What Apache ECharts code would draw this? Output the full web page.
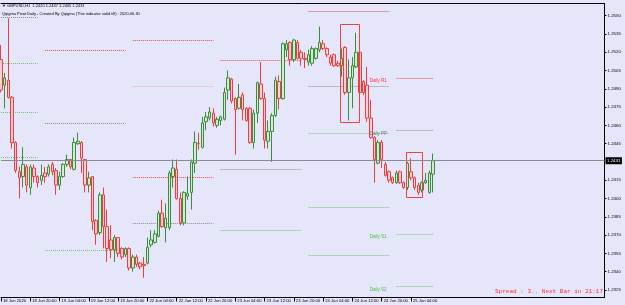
<!DOCTYPE html>
<html><head><meta charset="utf-8">
<script src="https://cdn.jsdelivr.net/npm/echarts@6/dist/echarts.min.js"></script>
<style>html,body{margin:0;padding:0;background:#E6E6FA;}#c{width:625px;height:305px;}</style>
</head><body><div id="c"></div>
<script>
// ---- H1 candles GBPUSD (bar index 0 = 18 Jun 12:00) ----
const opens = [1.2514,1.2493,1.2497,1.2483,1.2446,1.2422,1.2418,1.2426,1.2409,1.2425,
1.2418,1.2415,1.2421,1.2420,1.2428,1.2423,1.2411,1.2418,1.2428,1.2432,
1.2424,1.2445,1.2446,1.2432,1.2411,1.2418,1.2382,1.2372,1.2403,1.2377,
1.2366,1.2358,1.2368,1.2359,1.2354,1.2359,1.2343,1.2352,1.2347,1.2346,
1.2347,1.2362,1.2364,1.2369,1.2388,1.2376,1.2376,1.2418,1.2424,1.2400,
1.2380,1.2402,1.2405,1.2429,1.2445,1.2442,1.2463,1.2466,1.2470,1.2460,
1.2464,1.2465,1.2489,1.2498,1.2482,1.2474,1.2485,1.2474,1.2474,1.2446,
1.2470,1.2494,1.2482,1.2447,1.2455,1.2468,1.2496,1.2482,1.2522,1.2528,
1.2514,1.2528,1.2520,1.2515,1.2512,1.2511,1.2515,1.2522,1.2527,1.2523,
1.2516,1.2518,1.2511,1.2509,1.2524,1.2487,1.2499,1.2508,1.2520,1.2496,
1.2493,1.2466,1.2450,1.2429,1.2446,1.2428,1.2422,1.2417,1.2413,1.2422,
1.2413,1.2409,1.2422,1.2417,1.2411,1.2407,1.2413,1.2405,1.2420];
const highs = [1.2526,1.2503,1.2548,1.2484,1.2447,1.2426,1.2442,1.2428,1.2428,1.2428,
1.2419,1.2428,1.2426,1.2428,1.2430,1.2425,1.2422,1.2429,1.2436,1.2432,
1.2450,1.2454,1.2447,1.2432,1.2422,1.2418,1.2383,1.2405,1.2409,1.2391,
1.2378,1.2370,1.2368,1.2360,1.2360,1.2360,1.2354,1.2354,1.2348,1.2352,
1.2368,1.2374,1.2374,1.2390,1.2399,1.2396,1.2423,1.2432,1.2432,1.2405,
1.2406,1.2418,1.2432,1.2455,1.2454,1.2467,1.2471,1.2475,1.2474,1.2467,
1.2468,1.2491,1.2505,1.2499,1.2483,1.2494,1.2487,1.2475,1.2475,1.2473,
1.2496,1.2512,1.2487,1.2464,1.2470,1.2500,1.2501,1.2528,1.2530,1.2529,
1.2531,1.2530,1.2522,1.2520,1.2522,1.2525,1.2524,1.2541,1.2530,1.2524,
1.2518,1.2519,1.2513,1.2523,1.2525,1.2514,1.2516,1.2536,1.2522,1.2497,
1.2508,1.2481,1.2451,1.2448,1.2448,1.2430,1.2423,1.2418,1.2423,1.2423,
1.2414,1.2430,1.2433,1.2418,1.2413,1.2414,1.2421,1.2423,1.2437];
const lows = [1.2487,1.2474,1.2482,1.2441,1.2421,1.2400,1.2409,1.2405,1.2403,1.2413,
1.2409,1.2411,1.2413,1.2418,1.2419,1.2403,1.2407,1.2417,1.2426,1.2424,
1.2423,1.2444,1.2421,1.2405,1.2405,1.2374,1.2362,1.2370,1.2359,1.2348,
1.2351,1.2348,1.2352,1.2350,1.2352,1.2341,1.2340,1.2344,1.2342,1.2335,
1.2346,1.2360,1.2363,1.2368,1.2376,1.2364,1.2374,1.2409,1.2399,1.2378,
1.2378,1.2399,1.2391,1.2421,1.2440,1.2441,1.2456,1.2464,1.2459,1.2458,
1.2460,1.2464,1.2481,1.2478,1.2436,1.2473,1.2464,1.2463,1.2445,1.2441,
1.2462,1.2481,1.2441,1.2441,1.2430,1.2467,1.2473,1.2481,1.2516,1.2509,
1.2512,1.2514,1.2509,1.2507,1.2509,1.2509,1.2514,1.2520,1.2522,1.2516,
1.2509,1.2508,1.2508,1.2500,1.2485,1.2464,1.2474,1.2507,1.2485,1.2485,
1.2463,1.2449,1.2413,1.2428,1.2425,1.2418,1.2413,1.2412,1.2412,1.2412,
1.2408,1.2407,1.2415,1.2407,1.2403,1.2405,1.2412,1.2404,1.2405];
const closes = [1.2489,1.2499,1.2483,1.2446,1.2423,1.2417,1.2428,1.2411,1.2426,1.2418,
1.2413,1.2419,1.2418,1.2426,1.2422,1.2411,1.2418,1.2428,1.2432,1.2426,
1.2446,1.2447,1.2433,1.2411,1.2417,1.2381,1.2371,1.2403,1.2377,1.2359,
1.2358,1.2368,1.2355,1.2352,1.2359,1.2343,1.2352,1.2346,1.2344,1.2345,
1.2360,1.2366,1.2371,1.2388,1.2377,1.2384,1.2421,1.2425,1.2400,1.2380,
1.2405,1.2404,1.2430,1.2446,1.2445,1.2462,1.2467,1.2471,1.2462,1.2465,
1.2467,1.2487,1.2499,1.2480,1.2473,1.2483,1.2473,1.2464,1.2446,1.2470,
1.2495,1.2482,1.2448,1.2455,1.2468,1.2497,1.2482,1.2527,1.2527,1.2514,
1.2530,1.2515,1.2515,1.2514,1.2518,1.2523,1.2523,1.2528,1.2523,1.2518,
1.2511,1.2509,1.2509,1.2515,1.2487,1.2499,1.2509,1.2520,1.2487,1.2487,
1.2466,1.2450,1.2432,1.2446,1.2432,1.2419,1.2415,1.2413,1.2421,1.2413,
1.2409,1.2429,1.2417,1.2409,1.2405,1.2413,1.2415,1.2421,1.2431];

// ---- axis labels ----
const xLabelBars = [0,8,16,24,32,40,48,56,64,72,80,88,96,104,112];
const xLabels = ['18 Jun 2020','18 Jun 20:00','19 Jun 04:00','19 Jun 12:00','19 Jun 20:00','22 Jun 04:00','22 Jun 12:00','22 Jun 20:00','23 Jun 04:00','23 Jun 12:00','23 Jun 20:00','24 Jun 04:00','24 Jun 12:00','24 Jun 20:00','25 Jun 04:00'];
const yTicks = [1.2550,1.2535,1.2520,1.2505,1.2490,1.2475,1.2460,1.2445,1.2415,1.2400,1.2385,1.2370,1.2355,1.2340,1.2325];

// ---- daily pivots (one entry per day: 18,19,22,23,24,25 Jun) ----
const dayStart = [-12, 12, 36, 60, 84, 108];
const dayEnd   = [10, 34, 58, 82, 106, 118];
const pivotR3 = [null, null, 1.2530, null, null, null];
const pivotR2 = [null, null, 1.2492, null, null, null];
const pivotR1 = [null, 1.2522, 1.2418, 1.2514, 1.2554, 1.2499];
const pivotPP = [1.2549, 1.2462, 1.2380, 1.2424, 1.2492, 1.2456];
const pivotS1 = [1.2511, 1.2358, null, 1.2374, 1.2454, 1.2371];
const pivotS2 = [1.2471, null, null, null, 1.2393, 1.2328];
const pivotS3 = [1.2434, null, null, null, 1.2354, null];
const labelBar = 100.7;

// ---- highlight boxes ----
const boxFrom = [92.7, 110.7];
const boxTo   = [98.0, 115.0];
const boxTop  = [1.2543, 1.2438];
const boxBot  = [1.2463, 1.2401];

const title1 = '\u25BC GBPUSD,H1  1.2420 1.2437 1.2405 1.2431';
const title2 = 'Qqigma Pivot Daily - Created By Qqigma (This indicator valid till) : 2020.06.30';
const spreadText = 'Spread : 3.. Next Bar in 21:17';

const candleData = opens.map((o, i) => [i, o, closes[i], lows[i], highs[i]]);
const lastClose = closes[closes.length - 1];

const RED = '#f04848', PINK = '#f0a0b4', GRAY = '#8c8c8c', GREEN = '#6cc86c';
const segs = [];
function addLevel(arr, color) {
  arr.forEach((v, d) => { if (v != null) segs.push([Math.max(dayStart[d], 0), dayEnd[d], v, color]); });
}
addLevel(pivotR3, RED); addLevel(pivotR2, PINK); addLevel(pivotR1, RED);
addLevel(pivotPP, GRAY);
addLevel(pivotS1, GREEN); addLevel(pivotS2, GREEN); addLevel(pivotS3, GREEN);

const last = dayStart.length - 1;
const labelData = [
  [labelBar, pivotR1[last], 'Daily R1', '#ff3030'],
  [labelBar, pivotPP[last], 'Daily PP', '#707070'],
  [labelBar, pivotS1[last], 'Daily S1', '#44c044'],
  [labelBar, pivotS2[last], 'Daily S2', '#44c044']
];
const boxData = boxFrom.map((b, i) => [b, boxTo[i], boxTop[i], boxBot[i]]);

const chart = echarts.init(document.getElementById('c'), null, {renderer: 'canvas'});
const FONT = 'Liberation Sans';
chart.setOption({
  animation: false,
  backgroundColor: '#E6E6FA',
  grid: {left: 0, right: 20.5, top: 3.5, bottom: 7.5},
  xAxis: [{
    type: 'value', min: 0, max: 164.85, position: 'bottom',
    axisLine: {show: true, onZero: false, lineStyle: {color: '#000', width: 1}},
    axisTick: {show: true, customValues: xLabelBars, length: 4, lineStyle: {color: '#000'}},
    axisLabel: {show: true, customValues: xLabelBars, align: 'left', margin: 1, padding: [0,0,0,2],
      fontSize: 4.2, fontFamily: FONT, color: '#000',
      formatter: v => xLabels[xLabelBars.indexOf(Math.round(v))] || ''},
    splitLine: {show: false}
  }, {
    type: 'value', min: 0, max: 164.85, position: 'top',
    axisLine: {show: true, onZero: false, lineStyle: {color: '#000', width: 1}},
    axisTick: {show: false}, axisLabel: {show: false}, splitLine: {show: false}
  }],
  yAxis: {
    type: 'value', position: 'right', min: 1.23188, max: 1.2560, scale: true,
    axisLine: {show: true, onZero: false, lineStyle: {color: '#000', width: 1}},
    axisTick: {show: true, customValues: yTicks, length: 2, lineStyle: {color: '#000'}},
    axisLabel: {show: true, customValues: yTicks, margin: 3, fontSize: 4.4, fontFamily: FONT, color: '#000',
      formatter: v => v.toFixed(4)},
    splitLine: {show: false}
  },
  graphic: [
    {type: 'text', left: 2, top: 3.5, style: {text: title1, fontSize: 4, fontFamily: FONT, fill: '#000'}},
    {type: 'text', left: 2, top: 11.5, style: {text: title2, fontSize: 4, fontFamily: FONT, fill: '#000'}},
    {type: 'text', left: 495, top: 288.5, style: {text: spreadText, fontSize: 6, fontFamily: 'Liberation Mono', fill: '#ff3030'}}
  ],
  series: [
    {
      type: 'custom', name: 'pivots', data: segs, silent: true, z: 1,
      encode: {x: [0, 1], y: 2},
      renderItem: (params, api) => {
        const s = api.coord([api.value(0), api.value(2)]);
        const e = api.coord([api.value(1), api.value(2)]);
        const y = Math.round(s[1]) + 0.5;
        return {type: 'line', shape: {x1: s[0], y1: y, x2: e[0], y2: y},
          style: {stroke: segs[params.dataIndex][3], lineWidth: 1, lineDash: [1, 1]}};
      }
    },
    {
      type: 'candlestick', name: 'GBPUSD', data: candleData, z: 3,
      encode: {x: 0, y: [1, 2, 3, 4]},
      barWidth: 3,
      itemStyle: {color: '#d4ead4', color0: '#f8d0d6', borderColor: '#3a8e3a', borderColor0: '#f03c3c', borderWidth: 1},
      markLine: {
        silent: true, symbol: 'none', precision: 4,
        lineStyle: {color: '#8a8a96', type: 'solid', width: 1},
        label: {position: 'end', distance: 1, formatter: () => lastClose.toFixed(4),
          backgroundColor: '#000', color: '#fff', fontSize: 4.4, fontFamily: FONT, padding: [1.5, 1.5]},
        data: [{yAxis: lastClose}]
      }
    },
    {
      type: 'custom', name: 'boxes', data: boxData, silent: true, z: 4,
      encode: {x: [0, 1], y: [2, 3]},
      renderItem: (params, api) => {
        const a = api.coord([api.value(0), api.value(2)]);
        const b = api.coord([api.value(1), api.value(3)]);
        return {type: 'rect', shape: {x: Math.round(a[0]) + 0.5, y: Math.round(a[1]) + 0.5,
          width: Math.round(b[0] - a[0]), height: Math.round(b[1] - a[1])},
          style: {fill: 'none', stroke: '#f04040', lineWidth: 1}};
      }
    },
    {
      type: 'custom', name: 'labels', data: labelData, silent: true, z: 5,
      encode: {x: 0, y: 1},
      renderItem: (params, api) => {
        const p = api.coord([api.value(0), api.value(1)]);
        const d = labelData[params.dataIndex];
        return {type: 'text', x: p[0], y: p[1] + 0.8,
          style: {text: d[2], fill: d[3], fontSize: 4.5, fontFamily: FONT, align: 'left', verticalAlign: 'top'}};
      }
    }
  ]
});
</script>
</body></html>
